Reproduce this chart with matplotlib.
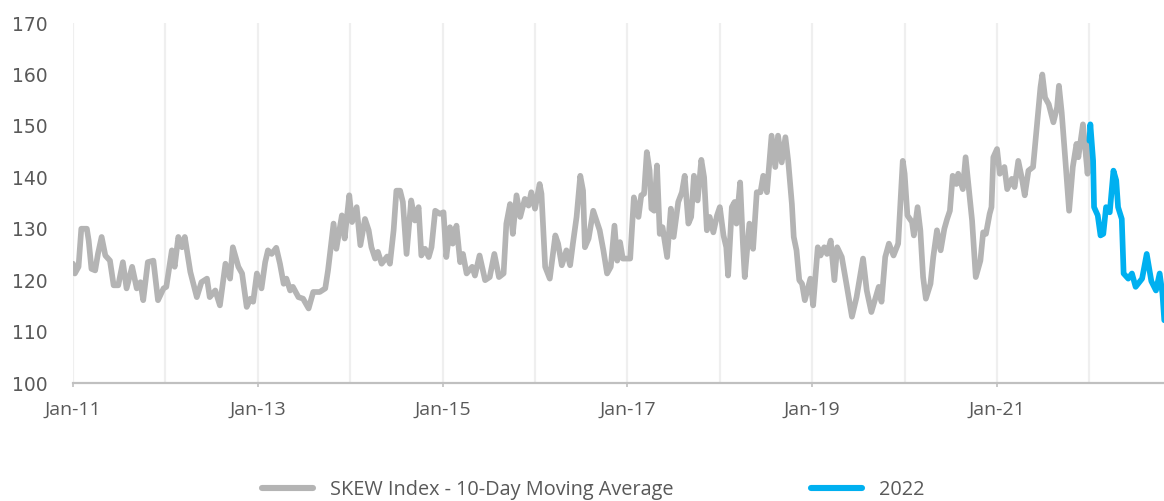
import numpy as np
import pandas as pd
import matplotlib
matplotlib.use("Agg")
import matplotlib.pyplot as plt
import matplotlib.dates as mdates

# ---- data (decimal years, SKEW 10-day moving average) ----
skew_years = [
    2011.00, 2011.02, 2011.06, 2011.09, 2011.15, 2011.17, 2011.20, 2011.24, 2011.27, 2011.31,
    2011.35, 2011.40, 2011.44, 2011.49, 2011.54, 2011.58, 2011.64, 2011.69, 2011.73, 2011.76,
    2011.81, 2011.87, 2011.92, 2011.98, 2012.01, 2012.07, 2012.10, 2012.14, 2012.18, 2012.21,
    2012.27, 2012.34, 2012.39, 2012.45, 2012.48, 2012.54, 2012.59, 2012.65, 2012.70, 2012.73,
    2012.79, 2012.83, 2012.88, 2012.92, 2012.95, 2012.99, 2013.04, 2013.08, 2013.11, 2013.15,
    2013.20, 2013.24, 2013.28, 2013.31, 2013.35, 2013.38, 2013.44, 2013.49, 2013.55, 2013.60,
    2013.67, 2013.73, 2013.76, 2013.82, 2013.85, 2013.91, 2013.94, 2013.99, 2014.02, 2014.07,
    2014.11, 2014.16, 2014.20, 2014.23, 2014.27, 2014.30, 2014.34, 2014.40, 2014.43, 2014.47,
    2014.50, 2014.54, 2014.57, 2014.61, 2014.66, 2014.70, 2014.74, 2014.77, 2014.81, 2014.85,
    2014.88, 2014.92, 2014.97, 2015.01, 2015.04, 2015.08, 2015.11, 2015.15, 2015.19, 2015.22,
    2015.26, 2015.32, 2015.35, 2015.40, 2015.46, 2015.51, 2015.56, 2015.61, 2015.66, 2015.69,
    2015.73, 2015.76, 2015.80, 2015.84, 2015.89, 2015.93, 2015.96, 2016.00, 2016.05, 2016.07,
    2016.11, 2016.16, 2016.22, 2016.25, 2016.29, 2016.34, 2016.38, 2016.41, 2016.45, 2016.49,
    2016.52, 2016.54, 2016.58, 2016.63, 2016.67, 2016.70, 2016.74, 2016.78, 2016.82, 2016.86,
    2016.89, 2016.92, 2016.95, 2017.03, 2017.07, 2017.12, 2017.15, 2017.18, 2017.21, 2017.24,
    2017.26, 2017.29, 2017.32, 2017.35, 2017.38, 2017.43, 2017.47, 2017.50, 2017.55, 2017.59,
    2017.62, 2017.66, 2017.69, 2017.72, 2017.76, 2017.80, 2017.83, 2017.86, 2017.89, 2017.93,
    2017.97, 2018.00, 2018.04, 2018.07, 2018.09, 2018.13, 2018.16, 2018.18, 2018.22, 2018.25,
    2018.27, 2018.32, 2018.36, 2018.40, 2018.44, 2018.47, 2018.51, 2018.56, 2018.60, 2018.63,
    2018.67, 2018.71, 2018.74, 2018.78, 2018.80, 2018.83, 2018.86, 2018.89, 2018.92, 2018.98,
    2019.01, 2019.06, 2019.09, 2019.13, 2019.16, 2019.20, 2019.24, 2019.27, 2019.32, 2019.37,
    2019.43, 2019.48, 2019.55, 2019.59, 2019.64, 2019.72, 2019.75, 2019.79, 2019.83, 2019.88,
    2019.93, 2019.98, 2020.00, 2020.03, 2020.08, 2020.10, 2020.14, 2020.17, 2020.20, 2020.23,
    2020.28, 2020.31, 2020.35, 2020.39, 2020.43, 2020.46, 2020.49, 2020.52, 2020.56, 2020.58,
    2020.63, 2020.66, 2020.69, 2020.73, 2020.77, 2020.82, 2020.85, 2020.88, 2020.92, 2020.94,
    2020.96, 2021.00, 2021.03, 2021.08, 2021.11, 2021.16, 2021.19, 2021.23, 2021.27, 2021.30,
    2021.34, 2021.39, 2021.43, 2021.47, 2021.49, 2021.52, 2021.56, 2021.61, 2021.65, 2021.67,
    2021.70, 2021.74, 2021.78, 2021.82, 2021.86, 2021.88, 2021.93, 2021.95, 2021.98, 2022.00,
]
skew_values = [
    123.2, 121.3, 122.6, 130.0, 130.0, 127.7, 122.2, 121.9, 125.1, 128.4,
    124.8, 123.8, 119.0, 119.0, 123.5, 118.4, 122.6, 118.4, 119.6, 116.1,
    123.5, 123.8, 116.1, 118.4, 118.7, 125.8, 122.6, 128.4, 126.4, 128.4,
    121.6, 116.7, 119.6, 120.3, 116.7, 118.0, 115.1, 123.2, 120.3, 126.4,
    122.6, 121.3, 114.8, 116.4, 115.8, 121.3, 118.4, 123.5, 125.8, 125.1,
    126.3, 123.2, 119.3, 120.3, 118.0, 118.7, 116.7, 116.4, 114.5, 117.7,
    117.7, 118.4, 121.9, 131.0, 126.1, 132.6, 128.1, 136.5, 131.3, 134.2,
    126.8, 131.9, 129.7, 126.4, 124.2, 125.5, 123.2, 124.6, 123.2, 129.7,
    137.4, 137.4, 135.2, 125.1, 135.5, 131.6, 134.2, 124.8, 126.1, 124.5,
    126.4, 133.5, 132.9, 133.2, 124.5, 130.3, 127.1, 130.6, 123.5, 125.1,
    121.3, 122.6, 120.9, 124.8, 120.0, 120.6, 125.1, 120.6, 121.3, 131.0,
    134.8, 129.0, 136.5, 132.3, 135.8, 134.5, 137.1, 133.9, 138.7, 136.8,
    122.6, 120.3, 128.7, 127.1, 122.9, 125.8, 122.9, 127.1, 132.3, 140.3,
    137.4, 126.4, 128.1, 133.5, 131.3, 129.7, 125.8, 121.3, 122.6, 130.6,
    123.8, 127.4, 124.2, 124.2, 136.1, 132.3, 136.5, 136.8, 144.9, 141.3,
    133.9, 133.5, 142.3, 129.0, 130.3, 124.5, 133.9, 128.4, 135.2, 137.1,
    140.3, 131.0, 132.3, 140.3, 135.5, 143.4, 140.0, 129.7, 132.3, 129.3,
    132.6, 134.2, 128.7, 126.4, 120.9, 134.2, 135.2, 131.0, 139.0, 127.1,
    120.6, 131.0, 126.1, 137.1, 137.1, 140.3, 137.1, 148.1, 142.0, 148.1,
    142.9, 147.8, 143.2, 134.8, 128.4, 125.8, 120.0, 119.3, 116.1, 120.3,
    115.1, 126.4, 124.8, 126.4, 125.1, 127.7, 120.0, 126.4, 124.5, 119.3,
    112.9, 116.7, 124.2, 118.0, 113.8, 118.7, 115.8, 124.5, 127.1, 124.8,
    127.1, 143.2, 140.7, 132.6, 131.3, 128.7, 134.2, 129.7, 120.6, 116.4,
    119.3, 124.5, 129.7, 125.8, 130.0, 131.9, 133.5, 140.3, 138.7, 140.7,
    137.7, 143.9, 138.7, 131.6, 120.6, 123.8, 129.3, 129.0, 132.9, 134.2,
    143.9, 145.5, 140.7, 142.0, 137.7, 139.7, 138.1, 143.2, 139.7, 136.5,
    141.3, 142.0, 149.7, 157.5, 160.0, 155.5, 154.2, 150.7, 153.6, 157.8,
    152.6, 143.2, 133.5, 142.0, 146.5, 143.9, 150.3, 146.5, 140.7, 147.1,
]
y2022_years = [
    2022.00, 2022.01, 2022.04, 2022.05, 2022.09, 2022.12, 2022.15, 2022.18, 2022.22, 2022.26,
    2022.29, 2022.31, 2022.35, 2022.37, 2022.42, 2022.46, 2022.50, 2022.57, 2022.62, 2022.67,
    2022.72, 2022.76, 2022.79, 2022.81,
]
y2022_values = [
    147.1, 150.3, 143.2, 134.2, 132.6, 128.7, 129.0, 134.2, 133.2, 141.3,
    139.4, 134.2, 131.9, 121.3, 120.3, 121.3, 118.7, 120.3, 125.1, 119.8,
    118.0, 121.3, 117.4, 112.2,
]
tick_years = [2011, 2013, 2015, 2017, 2019, 2021]
tick_labels = ["Jan-11", "Jan-13", "Jan-15", "Jan-17", "Jan-19", "Jan-21"]
grid_years = list(range(2011, 2023))
y_ticks = [100, 110, 120, 130, 140, 150, 160, 170]
series_names = ["SKEW Index - 10-Day Moving Average", "2022"]


def to_dates(years):
    years = np.asarray(years, dtype=float)
    base = pd.Timestamp("2011-01-01")
    return base + pd.to_timedelta((years - 2011.0) * 365.25, unit="D")


GRAY = "#b4b4b4"
BLUE = "#00b0f0"
TEXT = "#595959"

fig = plt.figure(figsize=(11.64, 5.01), dpi=100)
ax = fig.add_axes([0.0627, 0.2355, 0.9373, 0.7185])

ax.plot(to_dates(skew_years), skew_values, color=GRAY, lw=4.1,
        solid_joinstyle="round", solid_capstyle="round", label=series_names[0], zorder=3)
ax.plot(to_dates(y2022_years), y2022_values, color=BLUE, lw=4.1,
        solid_joinstyle="round", solid_capstyle="round", label=series_names[1], zorder=4)

for gy in grid_years:
    ax.axvline(to_dates([gy])[0], color="#efefef", lw=1.6, zorder=1)

ax.set_ylim(100, 170)
ax.set_yticks(y_ticks)
ax.set_xlim(to_dates([2011.0])[0], to_dates([2022.807])[0])
ax.set_xticks(to_dates(tick_years))
ax.set_xticklabels(tick_labels)

for s in ["top", "right", "left"]:
    ax.spines[s].set_visible(False)
ax.spines["bottom"].set_color("#c0c0c0")
ax.spines["bottom"].set_linewidth(1.6)
ax.spines["bottom"].set_zorder(2)

ax.tick_params(axis="y", length=0, pad=18.5, labelsize=13.5, labelcolor=TEXT)
ax.tick_params(axis="x", length=3, width=1.2, color="#c0c0c0", pad=10,
               labelsize=14, labelcolor=TEXT)
for lab in ax.get_xticklabels():
    lab.set_fontfamily("Open Sans")
for lab in ax.get_yticklabels():
    lab.set_fontfamily("DejaVu Sans")

leg = fig.legend(loc="center", bbox_to_anchor=(0.5095, 0.022), ncol=2, frameon=False,
                 handlelength=2.6, handletextpad=0.85, columnspacing=6.9,
                 prop={"family": "Open Sans", "size": 14.3})
for t in leg.get_texts():
    t.set_color(TEXT)
for l in leg.get_lines():
    l.set_linewidth(4.4)

fig.savefig("out.png", dpi=100)
